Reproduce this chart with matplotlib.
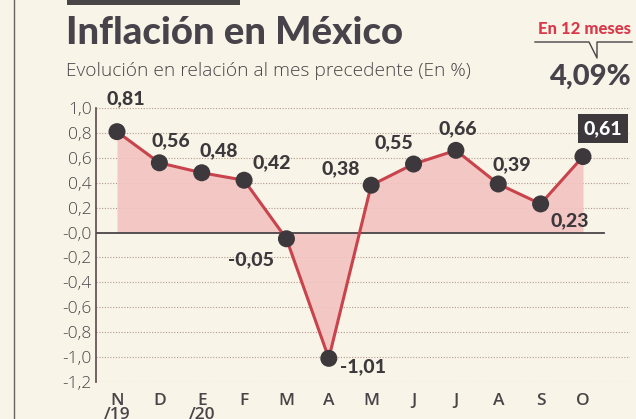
import matplotlib
matplotlib.use("Agg")
import matplotlib.pyplot as plt
from matplotlib.lines import Line2D
from matplotlib.patches import Rectangle

months = ["N\n/19", "D", "E\n/20", "F", "M", "A", "M", "J", "J", "A", "S", "O"]
values = [0.81, 0.56, 0.48, 0.42, -0.05, -1.01, 0.38, 0.55, 0.66, 0.39, 0.23, 0.61]
value_labels = ["0,81", "0,56", "0,48", "0,42", "-0,05", "-1,01", "0,38", "0,55", "0,66", "0,39", "0,23", "0,61"]
yticks = [1.0, 0.8, 0.6, 0.4, 0.2, 0.0, -0.2, -0.4, -0.6, -0.8, -1.0, -1.2]
ytick_labels = ["1,0", "0,8", "0,6", "0,4", "0,2", "-0,0", "-0,2", "-0,4", "-0,6", "-0,8", "-1,0", "-1,2"]
annual_value = "4,09%"

BG = "#f8f4e8"
DARK = "#48434a"
RED = "#c9434c"
FILL = "#f2c3c1"
MARK = "#3c383b"
GRID = "#b59a8c"

W, H = 636, 419
fig = plt.figure(figsize=(W / 100, H / 100), dpi=100, facecolor=BG)

def fx(px):
    return px / W

def fy(py):
    return 1 - py / H

ax = fig.add_axes([fx(96), fy(382), fx(630) - fx(96), fy(108) - fy(382)])
ax.set_facecolor("none")

x = list(range(len(values)))
ax.set_xlim(-0.496, 12.11)
ax.set_ylim(-1.2, 1.0)

for t in yticks:
    if t != 0.0:
        ax.axhline(t, color=GRID, lw=0.8, ls=(0, (1, 1.5)), zorder=1)
ax.plot([-0.496, 11.5], [0, 0], color="#4a4448", lw=1.3, zorder=2)

ax.fill_between(x, values, 0, color=FILL, alpha=0.9, lw=0, zorder=1.5)
ax.plot(x, values, color=RED, lw=2.2, zorder=3)
ax.scatter(x, values, s=150, color=MARK, zorder=4, edgecolors="none")

offsets = [(9, 33), (11, 22), (17, 22), (28, 18), (-35, -21), (34, -8),
           (-30, 17), (-20, 21), (2, 22), (14, 19), (29, -17), (20, 28)]
for i, (v, lab, off) in enumerate(zip(values, value_labels, offsets)):
    if i == len(values) - 1:
        ax.annotate(lab, (i, v), xytext=off, textcoords="offset pixels",
                    ha="center", va="center", fontsize=14, fontweight="black",
                    family="Lato", color="white", zorder=6,
                    bbox=dict(boxstyle="square,pad=0.3", fc=MARK, ec="none"))
    else:
        ax.annotate(lab, (i, v), xytext=off, textcoords="offset pixels",
                    ha="center", va="center", fontsize=14, fontweight="black",
                    family="Lato", color=MARK, zorder=6)

for s in ["top", "right", "bottom"]:
    ax.spines[s].set_visible(False)
ax.spines["left"].set_color("#5a4a48")
ax.spines["left"].set_linewidth(1.2)

ax.set_yticks(yticks)
ax.set_yticklabels(ytick_labels, family="Open Sans", fontweight="light", fontsize=12.5, color="#4a4448")
ax.set_xticks(x)
ax.set_xticklabels(months, family="Open Sans", fontweight="semibold", fontsize=12.5, color="#4a4448",
                   linespacing=0.8, va="top")
ax.tick_params(axis="both", length=0)
ax.tick_params(axis="y", pad=3)
ax.tick_params(axis="x", pad=8)

# decorations
fig.add_artist(Line2D([fx(14), fx(14)], [0, 1], color="#6a6062", lw=1.0))
fig.add_artist(Rectangle((fx(67), fy(5)), fx(240) - fx(67), fy(0) - fy(5), color="#4a4546", lw=0))

fig.text(fx(66), fy(33), "Inflación en México", family="Lato", fontweight="black",
         fontsize=27.5, color=DARK, va="center", ha="left")
fig.text(fx(66), fy(71), "Evolución en relación al mes precedente (En %)", family="Open Sans",
         fontweight="light", fontsize=13.8, color="#4a4448", va="center", ha="left")

fig.text(fx(584), fy(29), "En 12 meses", family="Lato", fontweight="black", fontsize=12,
         color="#d9394a", va="center", ha="center")
fig.add_artist(Line2D([fx(535), fx(589), fx(597), fx(597), fx(632)],
                      [fy(42), fy(42), fy(58), fy(42), fy(42)], color="#4a4448", lw=1.0))
fig.text(fx(591), fy(77), annual_value, family="Lato", fontweight="black", fontsize=21,
         color=DARK, va="center", ha="center")

fig.savefig("out.png", dpi=100, facecolor=BG)
